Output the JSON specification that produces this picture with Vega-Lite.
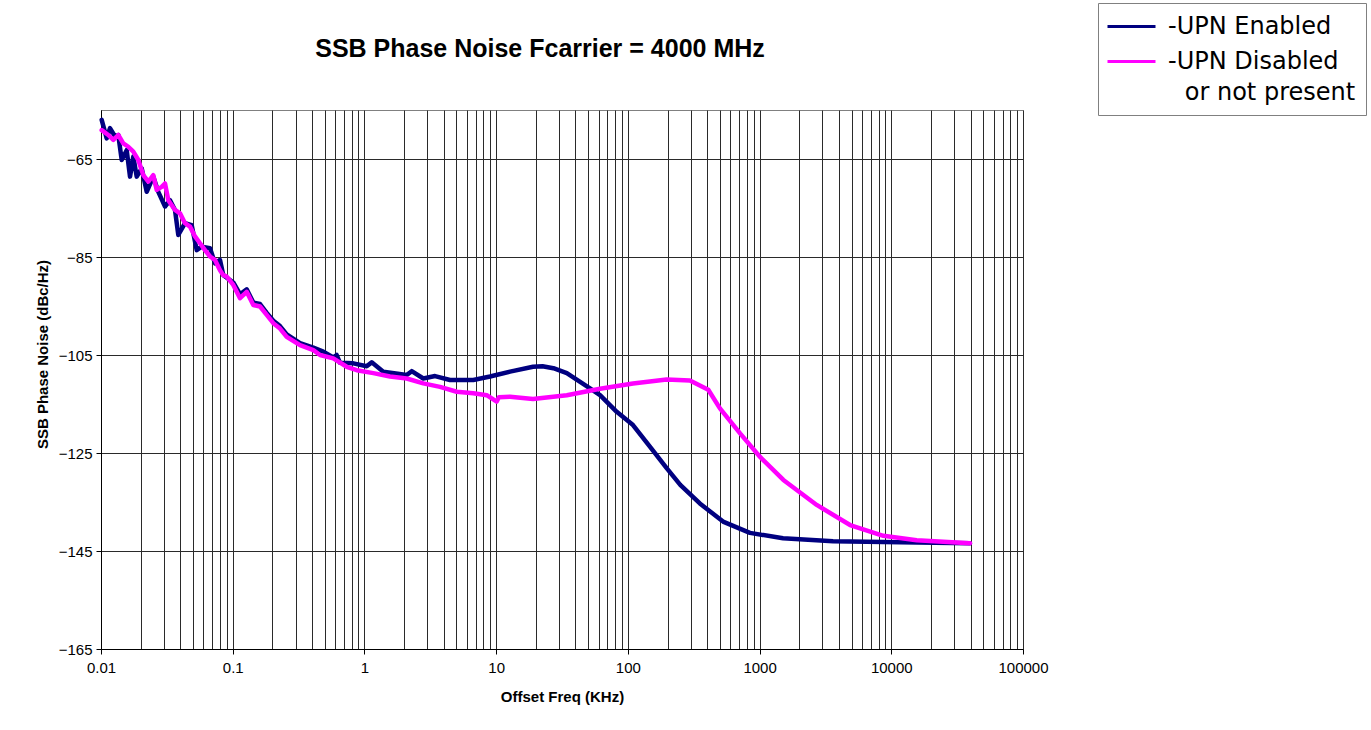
{
  "$schema": "https://vega.github.io/schema/vega-lite/v6.json",
  "width": 922,
  "height": 539,
  "autosize": {"type": "none"},
  "padding": {"left": 101, "top": 110, "right": 348, "bottom": 81},
  "background": "white",
  "title": {
    "text": "SSB Phase Noise Fcarrier = 4000 MHz",
    "font": "Liberation Sans",
    "fontSize": 25,
    "fontWeight": "bold",
    "color": "black",
    "anchor": "middle",
    "frame": "group",
    "dx": -22,
    "baseline": "alphabetic",
    "offset": 0,
    "dy": 79
  },
  "config": {
    "view": {"stroke": "#808080", "strokeWidth": 1},
    "font": "Liberation Sans"
  },
  "data": {
    "values": [
      {"f": 0.01012, "db": -57.0, "series": "-UPN Enabled"},
      {"f": 0.01105, "db": -60.8, "series": "-UPN Enabled"},
      {"f": 0.01170, "db": -58.7, "series": "-UPN Enabled"},
      {"f": 0.01277, "db": -60.4, "series": "-UPN Enabled"},
      {"f": 0.01353, "db": -60.1, "series": "-UPN Enabled"},
      {"f": 0.01436, "db": -65.2, "series": "-UPN Enabled"},
      {"f": 0.01567, "db": -63.2, "series": "-UPN Enabled"},
      {"f": 0.01661, "db": -68.6, "series": "-UPN Enabled"},
      {"f": 0.01759, "db": -64.5, "series": "-UPN Enabled"},
      {"f": 0.01867, "db": -68.6, "series": "-UPN Enabled"},
      {"f": 0.02037, "db": -66.9, "series": "-UPN Enabled"},
      {"f": 0.02223, "db": -71.7, "series": "-UPN Enabled"},
      {"f": 0.02495, "db": -68.6, "series": "-UPN Enabled"},
      {"f": 0.02723, "db": -71.7, "series": "-UPN Enabled"},
      {"f": 0.03062, "db": -74.7, "series": "-UPN Enabled"},
      {"f": 0.03342, "db": -73.4, "series": "-UPN Enabled"},
      {"f": 0.03646, "db": -75.4, "series": "-UPN Enabled"},
      {"f": 0.03863, "db": -80.5, "series": "-UPN Enabled"},
      {"f": 0.04343, "db": -78.1, "series": "-UPN Enabled"},
      {"f": 0.04882, "db": -78.5, "series": "-UPN Enabled"},
      {"f": 0.05328, "db": -83.6, "series": "-UPN Enabled"},
      {"f": 0.05815, "db": -82.9, "series": "-UPN Enabled"},
      {"f": 0.06724, "db": -83.2, "series": "-UPN Enabled"},
      {"f": 0.07337, "db": -86.3, "series": "-UPN Enabled"},
      {"f": 0.08008, "db": -85.6, "series": "-UPN Enabled"},
      {"f": 0.08482, "db": -88.7, "series": "-UPN Enabled"},
      {"f": 0.09004, "db": -89.2, "series": "-UPN Enabled"},
      {"f": 0.1010, "db": -90.2, "series": "-UPN Enabled"},
      {"f": 0.1136, "db": -92.6, "series": "-UPN Enabled"},
      {"f": 0.1277, "db": -91.6, "series": "-UPN Enabled"},
      {"f": 0.1433, "db": -94.3, "series": "-UPN Enabled"},
      {"f": 0.1612, "db": -94.6, "series": "-UPN Enabled"},
      {"f": 0.1812, "db": -96.4, "series": "-UPN Enabled"},
      {"f": 0.2033, "db": -98.0, "series": "-UPN Enabled"},
      {"f": 0.2286, "db": -99.1, "series": "-UPN Enabled"},
      {"f": 0.2570, "db": -100.8, "series": "-UPN Enabled"},
      {"f": 0.3243, "db": -102.6, "series": "-UPN Enabled"},
      {"f": 0.4092, "db": -103.5, "series": "-UPN Enabled"},
      {"f": 0.4874, "db": -104.3, "series": "-UPN Enabled"},
      {"f": 0.5802, "db": -105.5, "series": "-UPN Enabled"},
      {"f": 0.6159, "db": -105.0, "series": "-UPN Enabled"},
      {"f": 0.6525, "db": -106.6, "series": "-UPN Enabled"},
      {"f": 0.8234, "db": -106.7, "series": "-UPN Enabled"},
      {"f": 1.040, "db": -107.3, "series": "-UPN Enabled"},
      {"f": 1.136, "db": -106.5, "series": "-UPN Enabled"},
      {"f": 1.391, "db": -108.4, "series": "-UPN Enabled"},
      {"f": 2.094, "db": -109.1, "series": "-UPN Enabled"},
      {"f": 2.286, "db": -108.3, "series": "-UPN Enabled"},
      {"f": 2.799, "db": -109.8, "series": "-UPN Enabled"},
      {"f": 3.436, "db": -109.3, "series": "-UPN Enabled"},
      {"f": 4.464, "db": -110.1, "series": "-UPN Enabled"},
      {"f": 6.710, "db": -110.1, "series": "-UPN Enabled"},
      {"f": 8.985, "db": -109.4, "series": "-UPN Enabled"},
      {"f": 12.75, "db": -108.4, "series": "-UPN Enabled"},
      {"f": 19.05, "db": -107.4, "series": "-UPN Enabled"},
      {"f": 22.5, "db": -107.3, "series": "-UPN Enabled"},
      {"f": 27.2, "db": -107.7, "series": "-UPN Enabled"},
      {"f": 34.4, "db": -108.7, "series": "-UPN Enabled"},
      {"f": 51.6, "db": -111.8, "series": "-UPN Enabled"},
      {"f": 61.5, "db": -113.2, "series": "-UPN Enabled"},
      {"f": 82.3, "db": -116.6, "series": "-UPN Enabled"},
      {"f": 109.4, "db": -119.3, "series": "-UPN Enabled"},
      {"f": 147, "db": -123.7, "series": "-UPN Enabled"},
      {"f": 197, "db": -128.1, "series": "-UPN Enabled"},
      {"f": 250, "db": -131.5, "series": "-UPN Enabled"},
      {"f": 352, "db": -135.3, "series": "-UPN Enabled"},
      {"f": 528, "db": -139.0, "series": "-UPN Enabled"},
      {"f": 845, "db": -141.3, "series": "-UPN Enabled"},
      {"f": 1507, "db": -142.4, "series": "-UPN Enabled"},
      {"f": 3614, "db": -143.0, "series": "-UPN Enabled"},
      {"f": 11640, "db": -143.2, "series": "-UPN Enabled"},
      {"f": 39600, "db": -143.4, "series": "-UPN Enabled"},

      {"f": 0.01012, "db": -59.1, "series": "-UPN Disabled or not present"},
      {"f": 0.01136, "db": -60.1, "series": "-UPN Disabled or not present"},
      {"f": 0.01240, "db": -61.1, "series": "-UPN Disabled or not present"},
      {"f": 0.01353, "db": -60.1, "series": "-UPN Disabled or not present"},
      {"f": 0.01476, "db": -61.8, "series": "-UPN Disabled or not present"},
      {"f": 0.01612, "db": -62.5, "series": "-UPN Disabled or not present"},
      {"f": 0.01759, "db": -63.5, "series": "-UPN Disabled or not present"},
      {"f": 0.01920, "db": -65.2, "series": "-UPN Disabled or not present"},
      {"f": 0.02095, "db": -68.3, "series": "-UPN Disabled or not present"},
      {"f": 0.02287, "db": -69.6, "series": "-UPN Disabled or not present"},
      {"f": 0.02495, "db": -68.3, "series": "-UPN Disabled or not present"},
      {"f": 0.02649, "db": -71.3, "series": "-UPN Disabled or not present"},
      {"f": 0.02890, "db": -70.7, "series": "-UPN Disabled or not present"},
      {"f": 0.03062, "db": -70.0, "series": "-UPN Disabled or not present"},
      {"f": 0.03243, "db": -73.4, "series": "-UPN Disabled or not present"},
      {"f": 0.03646, "db": -75.4, "series": "-UPN Disabled or not present"},
      {"f": 0.03980, "db": -76.1, "series": "-UPN Disabled or not present"},
      {"f": 0.04343, "db": -78.1, "series": "-UPN Disabled or not present"},
      {"f": 0.04739, "db": -78.8, "series": "-UPN Disabled or not present"},
      {"f": 0.05172, "db": -80.8, "series": "-UPN Disabled or not present"},
      {"f": 0.05644, "db": -82.2, "series": "-UPN Disabled or not present"},
      {"f": 0.06160, "db": -83.6, "series": "-UPN Disabled or not present"},
      {"f": 0.06724, "db": -84.9, "series": "-UPN Disabled or not present"},
      {"f": 0.07337, "db": -85.6, "series": "-UPN Disabled or not present"},
      {"f": 0.08008, "db": -87.7, "series": "-UPN Disabled or not present"},
      {"f": 0.08482, "db": -88.7, "series": "-UPN Disabled or not present"},
      {"f": 0.09004, "db": -89.0, "series": "-UPN Disabled or not present"},
      {"f": 0.1010, "db": -90.7, "series": "-UPN Disabled or not present"},
      {"f": 0.1136, "db": -93.4, "series": "-UPN Disabled or not present"},
      {"f": 0.1277, "db": -92.1, "series": "-UPN Disabled or not present"},
      {"f": 0.1433, "db": -94.8, "series": "-UPN Disabled or not present"},
      {"f": 0.1612, "db": -95.1, "series": "-UPN Disabled or not present"},
      {"f": 0.1812, "db": -96.8, "series": "-UPN Disabled or not present"},
      {"f": 0.2033, "db": -98.5, "series": "-UPN Disabled or not present"},
      {"f": 0.2286, "db": -99.6, "series": "-UPN Disabled or not present"},
      {"f": 0.2570, "db": -101.3, "series": "-UPN Disabled or not present"},
      {"f": 0.3243, "db": -103.0, "series": "-UPN Disabled or not present"},
      {"f": 0.4092, "db": -104.0, "series": "-UPN Disabled or not present"},
      {"f": 0.4600, "db": -105.0, "series": "-UPN Disabled or not present"},
      {"f": 0.5802, "db": -105.7, "series": "-UPN Disabled or not present"},
      {"f": 0.7337, "db": -107.4, "series": "-UPN Disabled or not present"},
      {"f": 0.8739, "db": -108.1, "series": "-UPN Disabled or not present"},
      {"f": 1.168, "db": -108.7, "series": "-UPN Disabled or not present"},
      {"f": 1.564, "db": -109.4, "series": "-UPN Disabled or not present"},
      {"f": 2.094, "db": -109.8, "series": "-UPN Disabled or not present"},
      {"f": 2.799, "db": -110.8, "series": "-UPN Disabled or not present"},
      {"f": 3.749, "db": -111.5, "series": "-UPN Disabled or not present"},
      {"f": 5.021, "db": -112.5, "series": "-UPN Disabled or not present"},
      {"f": 6.710, "db": -112.8, "series": "-UPN Disabled or not present"},
      {"f": 8.480, "db": -113.2, "series": "-UPN Disabled or not present"},
      {"f": 10.10, "db": -114.5, "series": "-UPN Disabled or not present"},
      {"f": 10.5, "db": -113.6, "series": "-UPN Disabled or not present"},
      {"f": 12.75, "db": -113.5, "series": "-UPN Disabled or not present"},
      {"f": 19.05, "db": -114.0, "series": "-UPN Disabled or not present"},
      {"f": 34.4, "db": -113.2, "series": "-UPN Disabled or not present"},
      {"f": 61.5, "db": -111.9, "series": "-UPN Disabled or not present"},
      {"f": 109.4, "db": -110.8, "series": "-UPN Disabled or not present"},
      {"f": 197, "db": -110.0, "series": "-UPN Disabled or not present"},
      {"f": 296, "db": -110.2, "series": "-UPN Disabled or not present"},
      {"f": 408, "db": -112.1, "series": "-UPN Disabled or not present"},
      {"f": 500, "db": -115.9, "series": "-UPN Disabled or not present"},
      {"f": 711, "db": -121.0, "series": "-UPN Disabled or not present"},
      {"f": 1009, "db": -125.8, "series": "-UPN Disabled or not present"},
      {"f": 1516, "db": -130.5, "series": "-UPN Disabled or not present"},
      {"f": 2716, "db": -135.6, "series": "-UPN Disabled or not present"},
      {"f": 4864, "db": -139.7, "series": "-UPN Disabled or not present"},
      {"f": 8710, "db": -141.9, "series": "-UPN Disabled or not present"},
      {"f": 15600, "db": -142.8, "series": "-UPN Disabled or not present"},
      {"f": 39600, "db": -143.4, "series": "-UPN Disabled or not present"}
    ]
  },
  "encoding": {
    "x": {
      "field": "f",
      "type": "quantitative",
      "scale": {"type": "log", "domain": [0.01, 100000], "nice": false},
      "axis": {
        "title": "Offset Freq (KHz)",
        "titleFont": "Liberation Sans",
        "titleFontSize": 15,
        "titleFontWeight": "bold",
        "titleColor": "black",
        "titlePadding": 14,
        "values": [0.01,0.02,0.03,0.04,0.05,0.06,0.07,0.08,0.09,0.1,0.2,0.3,0.4,0.5,0.6,0.7,0.8,0.9,1,2,3,4,5,6,7,8,9,10,20,30,40,50,60,70,80,90,100,200,300,400,500,600,700,800,900,1000,2000,3000,4000,5000,6000,7000,8000,9000,10000,20000,30000,40000,50000,60000,70000,80000,90000,100000],
        "format": "~g",
        "labelExpr": "indexof(['0.01','0.1','1','10','100','1000','10000','100000'], datum.label) >= 0 ? datum.label : ''",
        "labelFont": "Liberation Sans",
        "labelFontSize": 15,
        "labelColor": "black",
        "labelPadding": 6,
        "labelFlush": false,
        "labelOverlap": false,
        "tickSize": 5,
        "tickColor": "black",
        "tickOpacity": {"condition": {"test": "abs(log(datum.value)/LN10 - round(log(datum.value)/LN10)) < 0.000001", "value": 1}, "value": 0},
        "domainColor": "black",
        "grid": true,
        "gridColor": "#2a2a2a",
        "gridWidth": 1
      }
    },
    "y": {
      "field": "db",
      "type": "quantitative",
      "scale": {"domain": [-165, -55], "nice": false, "zero": false},
      "axis": {
        "title": "SSB Phase Noise (dBc/Hz)",
        "titleFont": "Liberation Sans",
        "titleFontSize": 15,
        "titleFontWeight": "bold",
        "titleColor": "black",
        "titlePadding": 8,
        "titleY": 244,
        "values": [-165, -145, -125, -105, -85, -65],
        "labelFont": "Liberation Sans",
        "labelFontSize": 15,
        "labelColor": "black",
        "labelPadding": 4,
        "tickSize": 5,
        "tickColor": "black",
        "domainColor": "black",
        "grid": true,
        "gridColor": "#2a2a2a",
        "gridWidth": 1
      }
    },
    "color": {
      "field": "series",
      "type": "nominal",
      "scale": {"domain": ["-UPN Enabled", "-UPN Disabled or not present"], "range": ["#000080", "#FF00FF"]},
      "legend": {
        "orient": "none",
        "legendX": 997,
        "legendY": -107,
        "title": null,
        "strokeColor": "#808080",
        "fillColor": "white",
        "padding": 10,
        "symbolType": "M-2,0H2",
        "symbolSize": 576,
        "symbolOffset": 10,
        "symbolStrokeWidth": 3,
        "labelFont": "DejaVu Sans",
        "labelFontSize": 24,
        "labelColor": "black",
        "labelOffset": 23,
        "labelLimit": 400,
        "rowPadding": 9,
        "labelExpr": "datum.value == '-UPN Enabled' ? datum.label : ['-UPN Disabled\\u2002\\u2009\\u2009', '\\u200B\\u2002\\u2009or not present']",
        "encode": {"labels": {"update": {"lineHeight": {"value": 31}}}}
      }
    }
  },
  "layer": [
    {
      "transform": [{"filter": "datum.series == '-UPN Enabled'"}],
      "mark": {"type": "line", "strokeWidth": 4.5, "strokeJoin": "round", "strokeCap": "round"}
    },
    {
      "transform": [{"filter": "datum.series == '-UPN Disabled or not present'"}],
      "mark": {"type": "line", "strokeWidth": 4.5, "strokeJoin": "round", "strokeCap": "round"}
    }
  ]
}
